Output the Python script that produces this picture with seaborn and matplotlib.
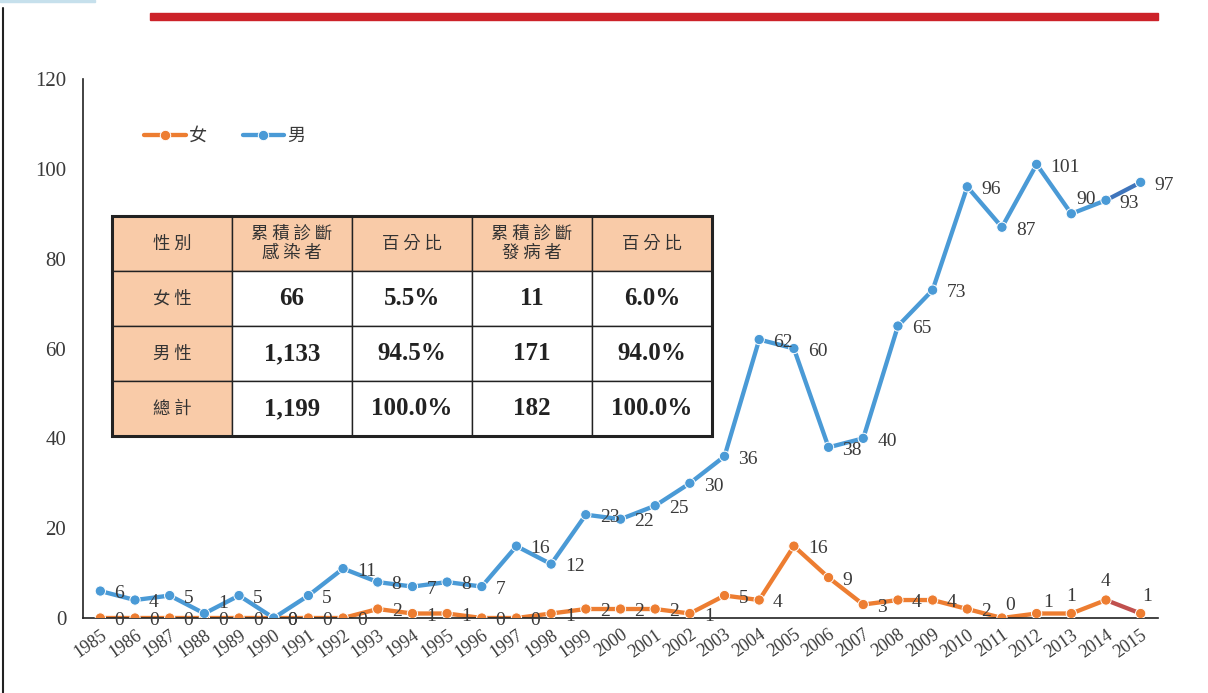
import matplotlib
matplotlib.use('Agg')
import matplotlib.pyplot as plt
from matplotlib.patches import Rectangle
from matplotlib.lines import Line2D
import pandas as pd
import seaborn as sns

years = list(range(1985, 2016))
male = [6, 4, 5, 1, 5, 0, 5, 11, 8, 7, 8, 7, 16, 12, 23, 22, 25, 30, 36, 62,
        60, 38, 40, 65, 73, 96, 87, 101, 90, 93, 97]
female = [0, 0, 0, 0, 0, 0, 0, 0, 2, 1, 1, 0, 0, 1, 2, 2, 2, 1, 5, 4,
          16, 9, 3, 4, 4, 2, 0, 1, 1, 4, 1]

table_header = ['性 別', '累 積 診 斷\n感 染 者', '百 分 比', '累 積 診 斷\n發 病 者', '百 分 比']
table_rows = ['女 性', '男 性', '總 計']
infected = ['66', '1,133', '1,199']
infected_pct = ['5.5%', '94.5%', '100.0%']
onset = ['11', '171', '182']
onset_pct = ['6.0%', '94.0%', '100.0%']

sns.set_style('white')
plt.rcParams['font.family'] = ['Liberation Serif', 'Noto Sans CJK TC']
CJK = ['Noto Sans CJK TC', 'DejaVu Sans']

c_f, c_m = '#ED7D31', '#4A9AD6'
c_f_last, c_m_last = '#C0504D', '#3F75BC'
txt = '#3a3a3a'

W, H = 1208, 693
fig = plt.figure(figsize=(W / 100, H / 100), dpi=100)
ax = fig.add_axes([83 / W, 1 - 618 / H, (1158 - 83) / W, (618 - 79) / H])

df = pd.DataFrame({'year': years, '女': female, '男': male})
long = df.melt(id_vars='year', var_name='sex', value_name='n')
pal = {'女': c_f, '男': c_m}

# lines up to 2014, last segment in another shade
sns.lineplot(data=long[long.year <= 2014], x='year', y='n', hue='sex', palette=pal,
             lw=3.1, legend=False, ax=ax, zorder=2)
last = long[long.year >= 2014]
sns.lineplot(data=last, x='year', y='n', hue='sex',
             palette={'女': c_f_last, '男': c_m_last}, lw=3.1, legend=False, ax=ax, zorder=2)
sns.scatterplot(data=long, x='year', y='n', hue='sex', palette=pal, s=55,
                edgecolor='white', linewidth=0.7, legend=False, ax=ax, zorder=3)

# data labels
overrides = {('女', 2011): (6, 9), ('女', 2012): (8, 8), ('女', 2013): (0, 12),
             ('女', 2014): (0, 13), ('女', 2015): (5, 12), ('男', 2013): (11, 10)}
for name, vals in (('女', female), ('男', male)):
    for yr, v in zip(years, vals):
        dx, dy = overrides.get((name, yr), (10, -2))
        if (name, yr) == ('男', 1988):
            dy = 7
        ax.annotate(str(v), (yr, v), xytext=(dx, dy), textcoords='offset points',
                    ha='left' if (name, yr) not in overrides else 'center',
                    va='center', fontsize=14, color=txt, zorder=4)

ax.set_xlim(1984.5, 2015.5)
ax.set_ylim(0, 120)
ax.set_yticks(range(0, 121, 20))
ax.set_xticks(years)
ax.set_xticklabels([str(y) for y in years], rotation=35, ha='right',
                   rotation_mode='anchor', fontsize=13, color=txt)
ax.set_xticks([y + 0.5 for y in years[:-1]] + [1984.5], minor=True)
ax.tick_params(axis='x', which='major', length=0, pad=6)
ax.tick_params(axis='x', which='minor', length=5, direction='in', color='#888888', width=0.8)
ax.tick_params(axis='y', length=5, direction='in', color='#555555', width=0.8, pad=12,
               labelsize=15, labelcolor=txt)
ax.set_xlabel('')
ax.set_ylabel('')
for s in ('top', 'right'):
    ax.spines[s].set_visible(False)
for s in ('left', 'bottom'):
    ax.spines[s].set_color('#222222')
    ax.spines[s].set_linewidth(1.2)

handles = [Line2D([], [], color=c_f, lw=3.1, marker='o', ms=7.5, mec='white', mew=0.7),
           Line2D([], [], color=c_m, lw=3.1, marker='o', ms=7.5, mec='white', mew=0.7)]
fig.legend(handles, ['女', '男'], loc='center left', bbox_to_anchor=(128 / W, 1 - 136 / H),
           ncol=2, frameon=False, handlelength=2.3, handletextpad=0.15, columnspacing=2.0,
           prop={'family': CJK, 'size': 13}, labelcolor=txt)

# summary table
tax = fig.add_axes([112 / W, 1 - 436 / H, 600 / W, 220 / H])
tax.axis('off')
cells = [table_header] + [[r, a, b, c, d] for r, a, b, c, d in
                          zip(table_rows, infected, infected_pct, onset, onset_pct)]
tbl = tax.table(cellText=cells, cellLoc='center', bbox=[0, 0, 1, 1])
tbl.auto_set_font_size(False)
peach = '#F9CBA8'
for (r, c), cell in tbl.get_celld().items():
    cell.set_edgecolor('#222222')
    cell.set_linewidth(1.0)
    t = cell.get_text()
    if r == 0 or c == 0:
        cell.set_facecolor(peach)
        t.set_fontfamily(CJK)
        t.set_fontsize(12.5)
        t.set_color('#333333')
        t.set_linespacing(1.1)
    else:
        cell.set_facecolor('white')
        t.set_fontsize(18)
        t.set_fontweight('bold')
        t.set_color('#222222')
tax.add_patch(Rectangle((0, 0), 1, 1, transform=tax.transAxes, fill=False,
                        lw=2.2, ec='#222222', zorder=5, clip_on=False))

# decorations
fig.patches.append(Rectangle((150 / W, 1 - 20 / H), (1158 - 150) / W, 7 / H,
                             transform=fig.transFigure, color='#CC2229', zorder=0))
fig.patches.append(Rectangle((0, 1 - 2 / H), 95 / W, 2 / H,
                             transform=fig.transFigure, color='#C6E0EC', zorder=0))
fig.lines.append(Line2D([3 / W, 3 / W], [0, 1 - 8 / H], transform=fig.transFigure,
                        color='#222222', lw=1.5))

fig.savefig('out.png', dpi=100)
